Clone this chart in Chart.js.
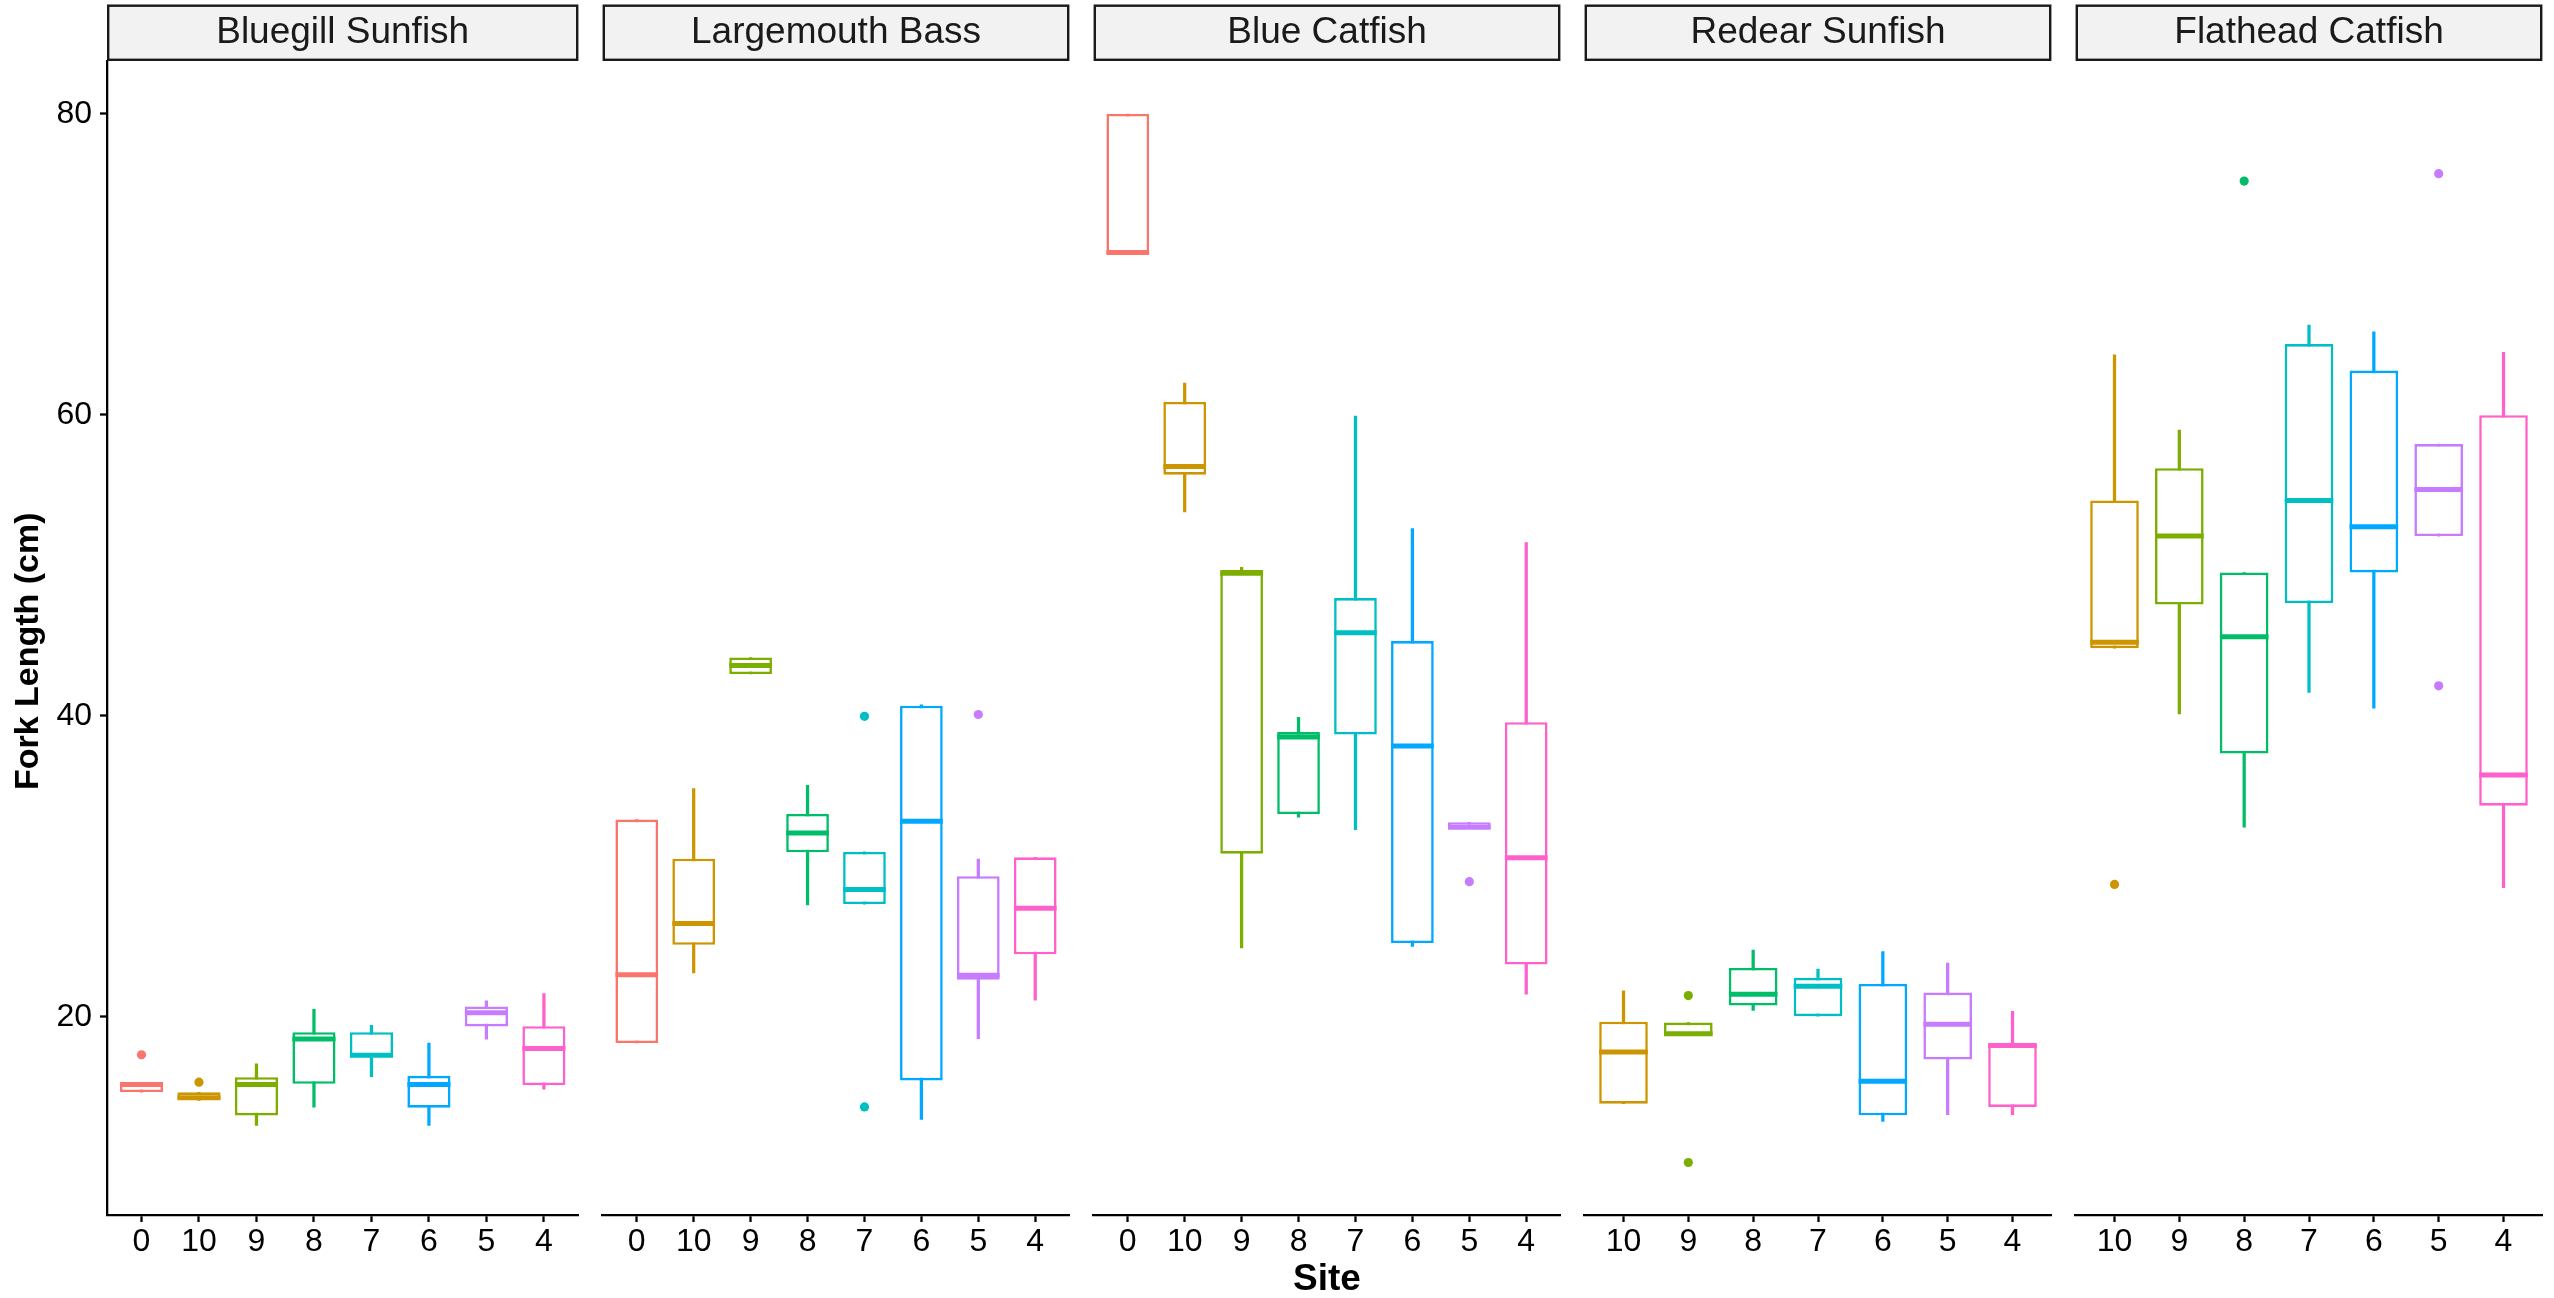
<!DOCTYPE html>
<html>
<head>
<meta charset="utf-8">
<title>Fork length by site</title>
<script src="https://cdn.jsdelivr.net/npm/chart.js@4.4.1/dist/chart.umd.min.js"></script>
<style>
  html, body { margin: 0; padding: 0; background: #fff; }
  #fig { position: relative; width: 2554px; height: 1298px; overflow: hidden; background: #fff; }
  #fig canvas { position: absolute; top: 0; }
</style>
</head>
<body>
<div id="fig"></div>
<script>
// ---- data: one row per facet ----
const panelTitles = ['Bluegill Sunfish', 'Largemouth Bass', 'Blue Catfish', 'Redear Sunfish', 'Flathead Catfish'];

const panelSites = [
  ['0', '10', '9', '8', '7', '6', '5', '4'],
  ['0', '10', '9', '8', '7', '6', '5', '4'],
  ['0', '10', '9', '8', '7', '6', '5', '4'],
  ['10', '9', '8', '7', '6', '5', '4'],
  ['10', '9', '8', '7', '6', '5', '4']
];

const lowerWhisker = [
  [15.0, 14.45, 12.78, 14.0, 16.02, 12.78, 18.52, 15.2],
  [18.26, 22.92, 42.78, 27.43, 27.49, 13.19, 18.54, 21.1],
  [70.7, 53.55, 24.58, 33.26, 32.43, 24.68, 32.5, 21.5],
  [14.23, 18.76, 20.42, 20.04, 13.05, 13.5, 13.5],
  [44.5, 40.13, 32.6, 41.56, 40.52, 51.95, 28.59]
];

const lowerHinge = [
  [15.0, 14.52, 13.45, 15.55, 17.32, 13.96, 19.36, 15.46],
  [18.26, 24.79, 42.78, 30.93, 27.49, 15.77, 22.47, 24.16],
  [70.7, 56.03, 30.84, 33.48, 38.76, 24.9, 32.5, 23.47],
  [14.23, 18.76, 20.75, 20.04, 13.46, 17.16, 14.01],
  [44.5, 47.4, 37.5, 47.5, 49.53, 51.95, 34.03]
];

const medians = [
  [15.5, 14.62, 15.5, 18.52, 17.45, 15.5, 20.27, 17.9],
  [22.8, 26.21, 43.34, 32.21, 28.46, 32.99, 22.77, 27.22],
  [70.8, 56.57, 49.48, 38.59, 45.52, 37.99, 32.6, 30.57],
  [17.67, 18.88, 21.5, 22.03, 15.72, 19.5, 18.1],
  [44.9, 51.95, 45.25, 54.32, 52.56, 55.04, 36.07]
];

const upperHinge = [
  [15.6, 14.98, 15.99, 18.98, 18.98, 16.08, 20.69, 19.38],
  [33.11, 30.51, 43.88, 33.48, 30.96, 40.68, 29.35, 30.6],
  [80.0, 60.86, 49.7, 38.92, 47.83, 44.97, 32.93, 39.58],
  [19.68, 19.62, 23.25, 22.59, 22.18, 21.61, 18.2],
  [54.32, 56.46, 49.53, 64.71, 62.95, 58.06, 59.98]
];

const upperWhisker = [
  [15.6, 14.98, 16.88, 20.49, 19.43, 18.25, 21.06, 21.55],
  [33.11, 35.16, 43.88, 35.39, 30.96, 40.74, 30.48, 30.6],
  [80.0, 62.12, 49.87, 39.91, 59.92, 52.45, 32.93, 51.51],
  [21.73, 19.62, 24.43, 23.18, 24.34, 23.57, 20.37],
  [64.0, 59.0, 49.53, 65.97, 65.53, 58.06, 64.16]
];

// [site, fork length] pairs beyond the whiskers
const outliers = [
  [['0', 17.48], ['10', 15.66]],
  [['7', 39.97], ['7', 14.01], ['5', 40.09]],
  [['5', 28.98]],
  [['9', 21.41], ['9', 10.32]],
  [['10', 28.8], ['8', 75.54], ['5', 76.03], ['5', 42.0]]
];

const yTicks = [20, 40, 60, 80];
const yLimits = [6.83, 83.52];

const siteColors = {
  '0': '#F8766D', '10': '#CD9600', '9': '#7CAE00', '8': '#00BE67',
  '7': '#00BFC4', '6': '#00A9FF', '5': '#C77CFF', '4': '#FF61CC'
};

// ---- layout ----
const FIG_H = 1298;
const PANEL_LEFT = 107;   // width of the y-axis gutter in the first panel
const PANEL_W = 476;
const PANEL_GAP = 15;
const PLOT_TOP = 61;
const AXIS_H = 83;
const STRIP_TOP = 4.5;
const FONT = "'Liberation Sans', Arial, Helvetica, sans-serif";
const INK = '#000';

// grey facet header drawn above each plot area
const stripPlugin = {
  id: 'strip',
  afterDraw(chart, args, opts) {
    const { ctx, chartArea: { left, right, top } } = chart;
    const lw = 2.4;
    ctx.save();
    ctx.fillStyle = '#F2F2F2';
    ctx.fillRect(left, STRIP_TOP, right - left, top - STRIP_TOP);
    ctx.strokeStyle = '#1a1a1a';
    ctx.lineWidth = lw;
    ctx.strokeRect(left + lw / 2, STRIP_TOP + lw / 2, right - left - lw, top - STRIP_TOP - lw);
    ctx.fillStyle = '#1a1a1a';
    ctx.font = `37px ${FONT}`;
    ctx.textAlign = 'center';
    ctx.textBaseline = 'middle';
    ctx.fillText(opts.text, (left + right) / 2, (STRIP_TOP + top) / 2 + 0.5);
    ctx.restore();
  }
};

// rotated y-axis title, centred on the full height spanned by strips, panels and x axis
const yTitlePlugin = {
  id: 'yTitle',
  afterDraw(chart, args, opts) {
    if (!opts.text) return;
    const { ctx } = chart;
    ctx.save();
    ctx.translate(28.5, (STRIP_TOP + chart.height) / 2);
    ctx.rotate(-Math.PI / 2);
    ctx.fillStyle = INK;
    ctx.font = `bold 34px ${FONT}`;
    ctx.textAlign = 'center';
    ctx.textBaseline = 'middle';
    ctx.fillText(opts.text, 0, 0);
    ctx.restore();
  }
};

// half of a box's width: 0.75 of the spacing between sites
function halfBox(ctx) {
  const x = ctx.chart.scales.x;
  return 0.375 * Math.abs(x.getPixelForValue(1) - x.getPixelForValue(0));
}

const fig = document.getElementById('fig');

panelTitles.forEach((title, p) => {
  const first = p === 0;
  const sites = panelSites[p];
  const colors = sites.map(s => siteColors[s]);
  const idx = sites.map((_, i) => i);
  const out = outliers[p];

  const width = first ? PANEL_LEFT + PANEL_W : PANEL_W;
  const left = first ? 0 : PANEL_LEFT + p * (PANEL_W + PANEL_GAP);
  const canvas = document.createElement('canvas');
  canvas.width = width;
  canvas.height = FIG_H;
  canvas.style.left = left + 'px';
  canvas.style.width = width + 'px';
  canvas.style.height = FIG_H + 'px';
  fig.appendChild(canvas);

  new Chart(canvas, {
    type: 'bar',
    data: {
      datasets: [
        {
          type: 'scatter',
          label: 'median',
          order: 0,
          data: idx.map(i => ({ x: i, y: medians[p][i] })),
          pointStyle: 'line',
          pointRadius: halfBox,
          pointHoverRadius: halfBox,
          pointBorderWidth: 5,
          pointHoverBorderWidth: 5,
          pointBorderColor: colors,
          pointBackgroundColor: colors
        },
        {
          type: 'scatter',
          label: 'outliers',
          order: 1,
          data: out.map(([s, v]) => ({ x: sites.indexOf(s), y: v })),
          pointRadius: 4.6,
          pointHoverRadius: 4.6,
          pointBorderWidth: 0,
          pointBackgroundColor: out.map(([s]) => siteColors[s])
        },
        {
          label: 'box',
          order: 2,
          data: idx.map(i => ({ x: i, y: [lowerHinge[p][i], upperHinge[p][i]] })),
          backgroundColor: '#fff',
          borderColor: colors,
          borderWidth: 2.6,
          borderSkipped: false,
          grouped: false,
          barPercentage: 0.75,
          categoryPercentage: 1
        },
        {
          label: 'whisker',
          order: 3,
          data: idx.map(i => ({ x: i, y: [lowerWhisker[p][i], upperWhisker[p][i]] })),
          backgroundColor: colors,
          borderWidth: 0,
          grouped: false,
          barThickness: 2.6
        }
      ]
    },
    options: {
      responsive: false,
      maintainAspectRatio: false,
      animation: false,
      events: [],
      devicePixelRatio: 1,
      layout: { padding: { top: PLOT_TOP, left: 0, right: 0, bottom: 0 } },
      plugins: {
        legend: { display: false },
        tooltip: { enabled: false },
        title: { display: false },
        strip: { text: title },
        yTitle: { text: first ? 'Fork Length (cm)' : '' }
      },
      scales: {
        x: {
          type: 'linear',
          min: -0.6,
          max: sites.length - 0.4,
          offset: false,
          afterBuildTicks: s => { s.ticks = idx.map(v => ({ value: v })); },
          afterFit: s => { s.height = AXIS_H; },
          border: { display: true, color: INK, width: 2.3 },
          grid: {
            display: true, drawOnChartArea: false, drawTicks: true, offset: false,
            tickLength: 7, tickWidth: 2.3, tickColor: INK
          },
          ticks: {
            callback: v => sites[v],
            color: INK,
            font: { family: FONT, size: 32 },
            padding: 1,
            maxRotation: 0,
            autoSkip: false
          },
          title: {
            display: p === 2,
            text: 'Site',
            color: INK,
            font: { family: FONT, size: 37, weight: 'bold', lineHeight: 1 },
            padding: { top: 0, bottom: 0 }
          }
        },
        y: {
          type: 'linear',
          display: first,
          min: yLimits[0],
          max: yLimits[1],
          afterBuildTicks: s => { s.ticks = yTicks.map(v => ({ value: v })); },
          afterFit: s => { s.width = first ? PANEL_LEFT : 0; },
          border: { display: true, color: INK, width: 2.3 },
          grid: {
            display: true, drawOnChartArea: false, drawTicks: true,
            tickLength: 7, tickWidth: 2.3, tickColor: INK
          },
          ticks: {
            color: INK,
            font: { family: FONT, size: 32 },
            padding: 8
          },
          title: { display: false }
        }
      }
    },
    plugins: [stripPlugin, yTitlePlugin]
  });
});
</script>
</body>
</html>
